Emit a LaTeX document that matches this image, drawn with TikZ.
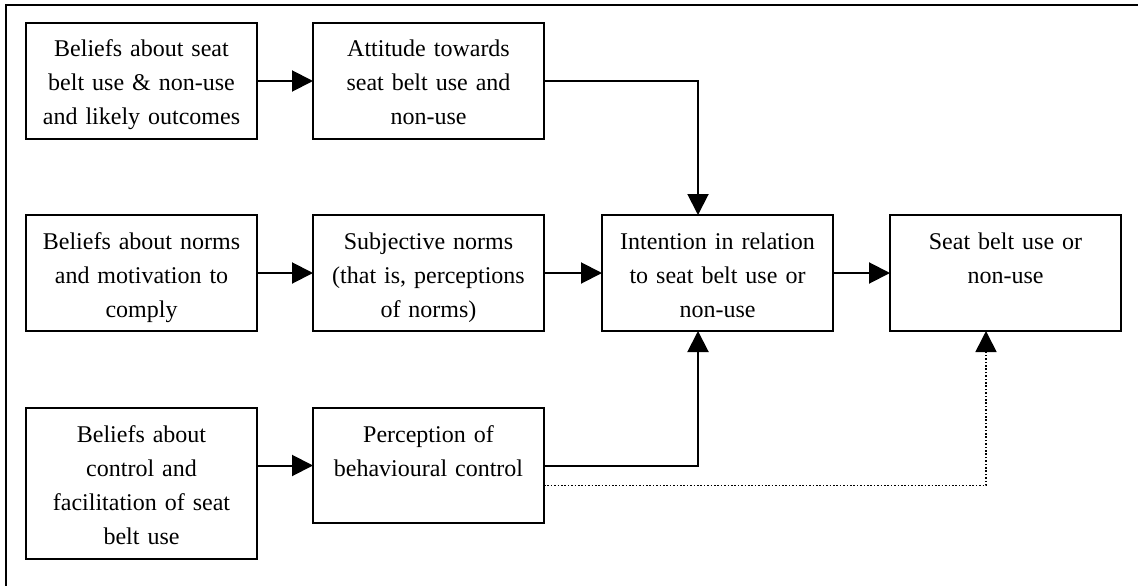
\documentclass[tikz,border=0pt]{standalone}
\usepackage{fontspec}
\setmainfont{Liberation Serif}
\usetikzlibrary{arrows.meta}

\tikzset{
  box/.style={draw, line width=2pt, inner sep=0pt, outer sep=0pt,
    anchor=north west, text width=231pt, align=center,
    text height=34pt, font=\fontsize{24}{34}\selectfont},
  link/.style={line width=2pt, -{Triangle[length=21pt,width=21pt]}},
  weaklink/.style={line width=1.6pt, dash pattern=on 1.6pt off 1.8pt,
    -{Triangle[length=21pt,width=21pt]}},
  frame/.style={line width=2.2pt},
}

\begin{document}
\begin{tikzpicture}[x=1pt, y=-1pt]
  \useasboundingbox (0,0) rectangle (1138,586);

  % page frame (top and left rules)
  \draw[frame] (1138,5) -- (6,5) -- (6,586);

  % first column: beliefs
  \node[box, text depth=82pt] (bo) at (26,23)
    {Beliefs about seat\\belt use \& non-use\\and likely outcomes};
  \node[box, text depth=82pt] (bn) at (26,215)
    {Beliefs about norms\\and motivation to\\comply};
  \node[box, text depth=117pt] (bc) at (26,408)
    {Beliefs about\\control and\\facilitation of seat\\belt use};

  % second column: attitude, norms, control
  \node[box, text depth=82pt] (att) at (313,23)
    {Attitude towards\\seat belt use and\\non-use};
  \node[box, text depth=82pt] (sn) at (313,215)
    {Subjective norms\\(that is, perceptions\\of norms)};
  \node[box, text depth=81pt] (pbc) at (313,408)
    {Perception of\\behavioural control};

  % intention and behaviour
  \node[box, text depth=82pt] (int) at (602,215)
    {Intention in relation\\to seat belt use or\\non-use};
  \node[box, text depth=82pt] (beh) at (890,215)
    {Seat belt use or\\non-use};

  % connectors
  \draw[link] (bo.east) -- (att.west);
  \draw[link] (bn.east) -- (sn.west);
  \draw[link] (pbc.west -| bc.east) -- (pbc.west);
  \draw[link] (att.east) -| ([xshift=96pt]int.north west);
  \draw[link] (sn.east) -- (int.west);
  \draw[link] (pbc.east) -| ([xshift=96pt]int.south west);
  \draw[link] (int.east) -- (beh.west);
  \draw[weaklink] ([yshift=-20pt]pbc.east) -| ([xshift=96pt]beh.south west);
\end{tikzpicture}
\end{document}
